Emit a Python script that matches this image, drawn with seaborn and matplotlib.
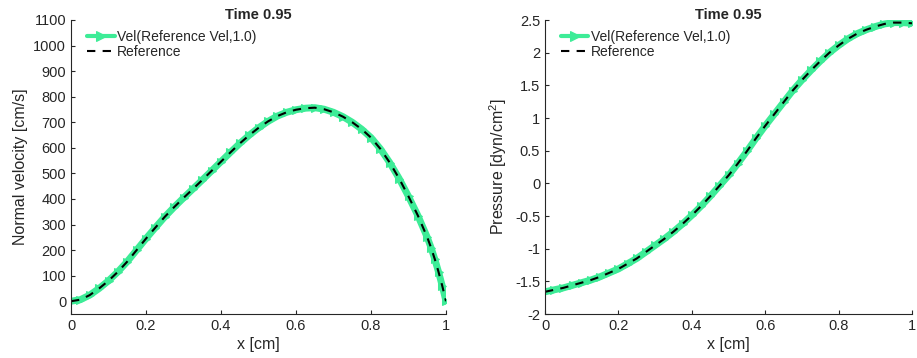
import matplotlib
matplotlib.use("Agg")
import matplotlib.pyplot as plt
import seaborn as sns
import pandas as pd

# ---- data ----
x_vel = [0.0, 0.025, 0.05, 0.075, 0.1, 0.125, 0.15, 0.175, 0.2, 0.225, 0.25, 0.275,
         0.3, 0.325, 0.35, 0.375, 0.4, 0.425, 0.45, 0.475, 0.5, 0.525, 0.55, 0.575,
         0.6, 0.625, 0.65, 0.675, 0.7, 0.725, 0.75, 0.775, 0.8, 0.825, 0.85, 0.875,
         0.9, 0.925, 0.95, 0.96, 0.97, 0.98, 0.99, 1.0]
velocity = [0, 6, 24, 50, 80, 115, 155, 200, 245, 288, 330, 368,
            404, 439, 474, 510, 546, 582, 617, 649, 678, 703, 724, 739,
            749, 755, 757, 751, 739, 722, 700, 673, 640, 596, 542, 480,
            410, 335, 250, 210, 165, 115, 60, 0]

x_pres = [0.0, 0.025, 0.05, 0.075, 0.1, 0.125, 0.15, 0.175, 0.2, 0.225, 0.25, 0.275,
          0.3, 0.325, 0.35, 0.375, 0.4, 0.425, 0.45, 0.475, 0.5, 0.525, 0.55, 0.575,
          0.6, 0.625, 0.65, 0.675, 0.7, 0.725, 0.75, 0.775, 0.8, 0.825, 0.85, 0.875,
          0.9, 0.925, 0.95, 0.975, 1.0]
pressure = [-1.66, -1.63, -1.60, -1.56, -1.52, -1.48, -1.43, -1.37, -1.31, -1.23, -1.15, -1.05,
            -0.95, -0.85, -0.74, -0.62, -0.49, -0.35, -0.20, -0.04, 0.12, 0.30, 0.49, 0.69,
            0.88, 1.06, 1.24, 1.42, 1.58, 1.73, 1.87, 2.00, 2.11, 2.21, 2.29, 2.35,
            2.40, 2.44, 2.46, 2.46, 2.45]

vel_ticks = [0, 100, 200, 300, 400, 500, 600, 700, 800, 900, 1000, 1100]
pres_ticks = [-2, -1.5, -1, -0.5, 0, 0.5, 1, 1.5, 2, 2.5]
pres_tick_labels = ["-2", "-1.5", "-1", "-0.5", "0", "0.5", "1", "1.5", "2", "2.5"]
x_ticks = [0, 0.2, 0.4, 0.6, 0.8, 1]
x_tick_labels = ["0", "0.2", "0.4", "0.6", "0.8", "1"]

title = "Time 0.95"
sim_label = "Vel(Reference Vel,1.0)"
ref_label = "Reference"

# ---- style ----
sns.set_style("white")
plt.rcParams['font.family'] = ['Liberation Sans', 'DejaVu Sans']
plt.rcParams['mathtext.fontset'] = 'custom'
plt.rcParams['mathtext.rm'] = 'Liberation Sans'
plt.rcParams['mathtext.it'] = 'Liberation Sans'

GREEN = '#3dec97'
W, H = 917, 358
fig = plt.figure(figsize=(W / 100, H / 100), dpi=100)
ax1 = fig.add_axes([71 / W, 44 / H, 375 / W, 294 / H])
ax2 = fig.add_axes([545 / W, 44 / H, 367 / W, 294 / H])

df_v = pd.DataFrame({"x": x_vel, "v": velocity})
df_p = pd.DataFrame({"x": x_pres, "p": pressure})


def draw(ax, df, col):
    sns.lineplot(data=df, x="x", y=col, ax=ax, color=GREEN, lw=5, marker='>',
                 markersize=6, markeredgecolor=GREEN, label=sim_label, sort=False,
                 estimator=None)
    sns.lineplot(data=df, x="x", y=col, ax=ax, color='black', lw=1.5,
                 dashes=False, label=ref_label, sort=False, estimator=None)
    ax.lines[-1].set_linestyle((0, (4, 3.5)))
    ax.set_xlim(0, 1)
    ax.set_xticks(x_ticks)
    ax.set_xticklabels(x_tick_labels)
    for s in ['top', 'right']:
        ax.spines[s].set_visible(False)
    for s in ['left', 'bottom']:
        ax.spines[s].set_color('#262626')
        ax.spines[s].set_linewidth(0.8)
    ax.tick_params(direction='in', length=3, width=0.8, labelsize=10.5,
                   colors='#262626', left=True, bottom=True)
    ax.set_xlabel("x [cm]", fontsize=11.5, color='#262626', labelpad=3)
    ax.set_title(title, fontsize=10.5, fontweight='bold', pad=0.5)
    leg = ax.legend(loc='upper left', frameon=False, fontsize=10, numpoints=1,
                    handlelength=2.0, handletextpad=0.15, labelspacing=0.1,
                    borderaxespad=0.2, bbox_to_anchor=(0.02, 0.995))
    leg.get_lines()[0].set_linewidth(3)
    leg.get_lines()[0].set_markersize(7)
    ax.grid(False)


draw(ax1, df_v, "v")
ax1.set_ylim(-50, 1100)
ax1.set_yticks(vel_ticks)
ax1.set_yticklabels([str(t) for t in vel_ticks])
ax1.set_ylabel("Normal velocity [cm/s]", fontsize=11.5, color='#262626', labelpad=4)

draw(ax2, df_p, "p")
ax2.set_ylim(-2, 2.5)
ax2.set_yticks(pres_ticks)
ax2.set_yticklabels(pres_tick_labels)
ax2.set_ylabel("Pressure [dyn/cm$^2$]", fontsize=11.5, color='#262626', labelpad=4)

fig.savefig("out.png", dpi=100)
